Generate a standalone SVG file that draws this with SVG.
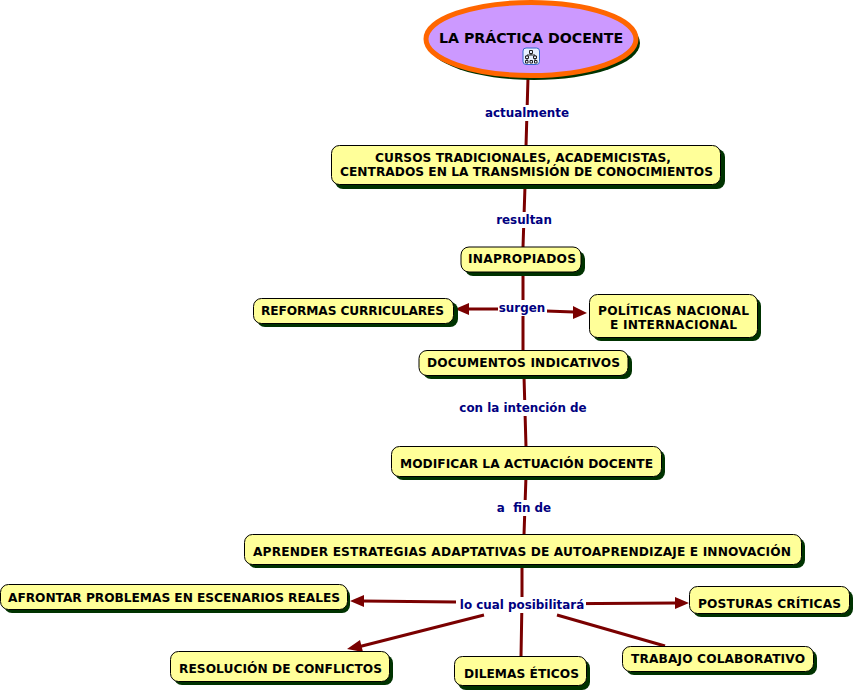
<svg xmlns="http://www.w3.org/2000/svg" width="854" height="691" viewBox="0 0 854 691">
<style>
.s{fill:#003300}
.b{fill:#ffff99;stroke:#000;stroke-width:1}
.t{font-family:"DejaVu Sans",Verdana,sans-serif;font-weight:bold;font-size:12.200px;fill:#000;text-anchor:middle}
.l{font-family:"DejaVu Sans",Verdana,sans-serif;font-weight:bold;font-size:11.900px;fill:#000080;text-anchor:middle}
.c{stroke:#7a0000;stroke-width:3;fill:none}
.a{fill:#7a0000}
.lb{fill:#fff}
</style>
<rect width="854" height="691" fill="#fff"/>
<g id="connectors">
<path class="c" d="M528 78L526 146M525 186L523 247M523 272L523 350M524 376L526 447M526 476L524 535M522 564L522 600M522 600L521 657M456 602L362 601M522 604L676 603M484 615L358 647M557 615L665 646M500 309L468 309M546 311L574 312"/>
<path class="a" d="M350 601L364 595L364 607ZM347 649L360 640L363 652ZM689 603L675 597L675 609ZM455 309L469 303L469 315ZM587 313L573 306L573 319Z"/>
</g>
<g id="link-labels">
<rect class="lb" x="484" y="105" width="86" height="16"/><text class="l" x="527" y="117">actualmente</text>
<rect class="lb" x="494" y="212" width="60" height="16"/><text class="l" x="524" y="224">resultan</text>
<rect class="lb" x="498" y="300" width="49" height="16"/><text class="l" x="522" y="312">surgen</text>
<rect class="lb" x="458" y="400" width="130" height="16"/><text class="l" x="523" y="412">con la intención de</text>
<rect class="lb" x="495" y="500" width="58" height="16"/><text class="l" x="524" y="512" xml:space="preserve">a  fin de</text>
<rect class="lb" x="458" y="597" width="128" height="16"/><text class="l" x="522" y="609">lo cual posibilitará</text>
</g>
<g id="n0">
<ellipse cx="534" cy="43" rx="106" ry="37" class="s"/>
<ellipse cx="531" cy="39" rx="105" ry="36.500" fill="#cc99ff" stroke="#ff6600" stroke-width="5"/>
<text class="t" x="531" y="43" style="font-size:14.200px">LA PRÁCTICA DOCENTE</text>
<g id="icon">
<rect x="523" y="48" width="16.500" height="16.500" rx="3" fill="#e8f0ff" stroke="#3366cc"/>
<path d="M529.500 50.500h3v3h-3ZM525.500 56h3v2.500h-3ZM533.500 56h3v2.500h-3ZM525.500 60.500h2.500v2.500h-2.500ZM530 60.500h2.500v2.500h-2.500ZM534.500 60.500h2.500v2.500h-2.500ZM531 53.500v1.500M527 55v1M527 55h8v1M527 58.500v2M535 58.500v2" fill="none" stroke="#222" stroke-width="1"/>
</g>
</g>
<g id="n1"><rect class="s" x="335" y="149" width="390" height="40" rx="8"/><rect class="b" x="331.500" y="145.500" width="389" height="39" rx="8"/><text class="t" x="523" y="162" textLength="296">CURSOS TRADICIONALES, ACADEMICISTAS,</text><text class="t" x="526.500" y="176" textLength="373">CENTRADOS EN LA TRANSMISIÓN DE CONOCIMIENTOS</text></g>
<g id="n2"><rect class="s" x="465" y="251" width="120" height="25" rx="8"/><rect class="b" x="461" y="247" width="120" height="25" rx="8"/><text class="t" x="522" y="263" textLength="108">INAPROPIADOS</text></g>
<g id="n3"><rect class="s" x="257" y="302" width="201" height="25" rx="8"/><rect class="b" x="253.500" y="298.500" width="200" height="25" rx="8"/><text class="t" x="352.500" y="315" textLength="183">REFORMAS CURRICULARES</text></g>
<g id="n4"><rect class="s" x="593" y="298" width="168" height="43" rx="8"/><rect class="b" x="589.500" y="294.500" width="168" height="43" rx="8"/><text class="t" x="673.500" y="315" textLength="151">POLÍTICAS NACIONAL</text><text class="t" x="673.500" y="329" textLength="127">E INTERNACIONAL</text></g>
<g id="n5"><rect class="s" x="423" y="354" width="209" height="25" rx="8"/><rect class="b" x="419" y="350.500" width="209" height="25" rx="8"/><text class="t" x="523.500" y="367" textLength="193">DOCUMENTOS INDICATIVOS</text></g>
<g id="n6"><rect class="s" x="395" y="450" width="270" height="30" rx="8"/><rect class="b" x="391.500" y="446.500" width="270" height="30" rx="8"/><text class="t" x="526.500" y="468" textLength="253">MODIFICAR LA ACTUACIÓN DOCENTE</text></g>
<g id="n7"><rect class="s" x="248" y="538" width="557" height="30" rx="8"/><rect class="b" x="244.500" y="534.500" width="557" height="30" rx="8"/><text class="t" x="522" y="556" textLength="538">APRENDER ESTRATEGIAS ADAPTATIVAS DE AUTOAPRENDIZAJE E INNOVACIÓN</text></g>
<g id="n8"><rect class="s" x="4" y="588" width="346" height="25" rx="8"/><rect class="b" x="0.500" y="584.500" width="347" height="25" rx="8"/><text class="t" x="174" y="602" textLength="332">AFRONTAR PROBLEMAS EN ESCENARIOS REALES</text></g>
<g id="n9"><rect class="s" x="693" y="590" width="160" height="27" rx="8"/><rect class="b" x="689.500" y="586.500" width="160" height="27" rx="8"/><text class="t" x="769.500" y="608" textLength="143">POSTURAS CRÍTICAS</text></g>
<g id="n10"><rect class="s" x="174" y="655" width="219" height="30" rx="8"/><rect class="b" x="170.500" y="651.500" width="219" height="30" rx="8"/><text class="t" x="280.500" y="673" textLength="203">RESOLUCIÓN DE CONFLICTOS</text></g>
<g id="n11"><rect class="s" x="458" y="660" width="132" height="30" rx="8"/><rect class="b" x="454.500" y="656.500" width="132" height="29" rx="8"/><text class="t" x="521.500" y="678" textLength="115">DILEMAS ÉTICOS</text></g>
<g id="n12"><rect class="s" x="626" y="650" width="191" height="25" rx="8"/><rect class="b" x="622.500" y="646.500" width="191" height="25" rx="8"/><text class="t" x="718" y="663" textLength="174">TRABAJO COLABORATIVO</text></g>
</svg>
